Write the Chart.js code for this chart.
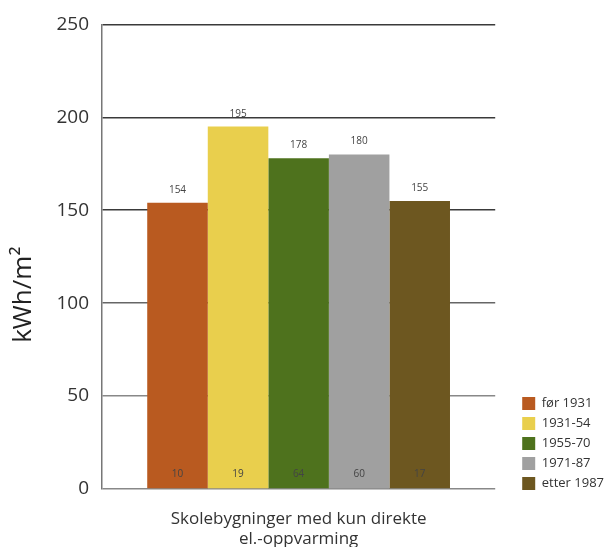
<!DOCTYPE html>
<html lang="no">
<head>
    <meta charset="UTF-8">
    <title>Skolebygninger kWh/m2</title>
    <script src="https://cdn.jsdelivr.net/npm/chart.js"></script>
    <style>
        body { margin: 0; background: #fff; }
        #wrap { width: 610px; height: 547px; position: relative; }
    </style>
</head>
<body>
    <div id="wrap"><canvas id="energyChart"></canvas></div>

    <script>
        // data
        var category = ['Skolebygninger med kun direkte', 'el.-oppvarming'];
        var periods = ['før 1931', '1931-54', '1955-70', '1971-87', 'etter 1987'];
        var energyUse = [154, 195, 178, 180, 155];   // kWh/m2
        var buildingCount = [10, 19, 64, 60, 17];    // tall nede i søylene
        var colors = ['#B95A20', '#E9CF4D', '#4E721D', '#A0A0A0', '#6D5720'];
        var yTitle = 'kWh/m²';
        var yMin = 0, yMax = 250, yStep = 50;

        var font = '"Open Sans", "Noto Sans", sans-serif';

        var datasets = periods.map(function (p, i) {
            return { label: p, data: [energyUse[i]], backgroundColor: colors[i], borderWidth: 0 };
        });

        // verdier over og under søylene + y-tittel
        var barLabels = {
            id: 'barLabels',
            afterLayout: function (chart) {
                // flytt legenden ned mot bunnlinja og litt til høyre
                var lg = chart.legend, ca = chart.chartArea;
                var w = lg.right - lg.left;
                lg.left = ca.right + 20;
                lg.right = lg.left + w;
                lg.bottom = ca.bottom + 8;
            },
            afterDatasetsDraw: function (chart) {
                var ctx = chart.ctx;
                var ys = chart.scales.y;
                var y0 = ys.getPixelForValue(0);
                ctx.save();
                ctx.font = '10px ' + font;
                ctx.fillStyle = '#444';
                ctx.textAlign = 'center';
                ctx.textBaseline = 'alphabetic';
                chart.data.datasets.forEach(function (ds, i) {
                    var bar = chart.getDatasetMeta(i).data[0];
                    ctx.fillText(String(energyUse[i]), bar.x, bar.y - 10);
                    ctx.fillText(String(buildingCount[i]), bar.x, y0 - 12);
                });
                ctx.restore();

                ctx.save();
                ctx.translate(24, (ys.top + ys.bottom) / 2 + 38);
                ctx.rotate(-Math.PI / 2);
                ctx.font = '26px ' + font;
                ctx.fillStyle = '#222';
                ctx.textAlign = 'center';
                ctx.textBaseline = 'middle';
                ctx.fillText(yTitle, 0, 0);
                ctx.restore();
            }
        };

        new Chart(document.getElementById('energyChart'), {
            type: 'bar',
            data: { labels: [category], datasets: datasets },
            options: {
                responsive: true,
                maintainAspectRatio: false,
                animation: false,
                layout: { padding: { top: 24, right: 16, left: 0, bottom: 0 } },
                datasets: { bar: { categoryPercentage: 0.77, barPercentage: 1.0 } },
                plugins: {
                    legend: {
                        position: 'right',
                        align: 'end',
                        labels: {
                            boxWidth: 13, boxHeight: 13, padding: 7,
                            color: '#333',
                            font: { family: font, size: 13 }
                        }
                    },
                    tooltip: { enabled: false }
                },
                scales: {
                    x: {
                        grid: { display: false },
                        border: { display: false },
                        ticks: { color: '#333', padding: 12, font: { family: font, size: 17 } },
                        afterFit: function (s) { s.height = 58; }
                    },
                    y: {
                        min: yMin, max: yMax,
                        ticks: { stepSize: yStep, color: '#333', padding: 13, font: { family: font, size: 19 } },
                        grid: {
                            drawTicks: false,
                            lineWidth: 1.5,
                            color: function (c) { return c.tick.value >= 150 ? '#3a3a3a' : (c.tick.value >= 100 ? '#666' : '#888'); }
                        },
                        border: { display: true, color: '#777', width: 1.5 },
                        afterFit: function (s) { s.width = 102; }
                    }
                }
            },
            plugins: [barLabels]
        });
    </script>
</body>
</html>
